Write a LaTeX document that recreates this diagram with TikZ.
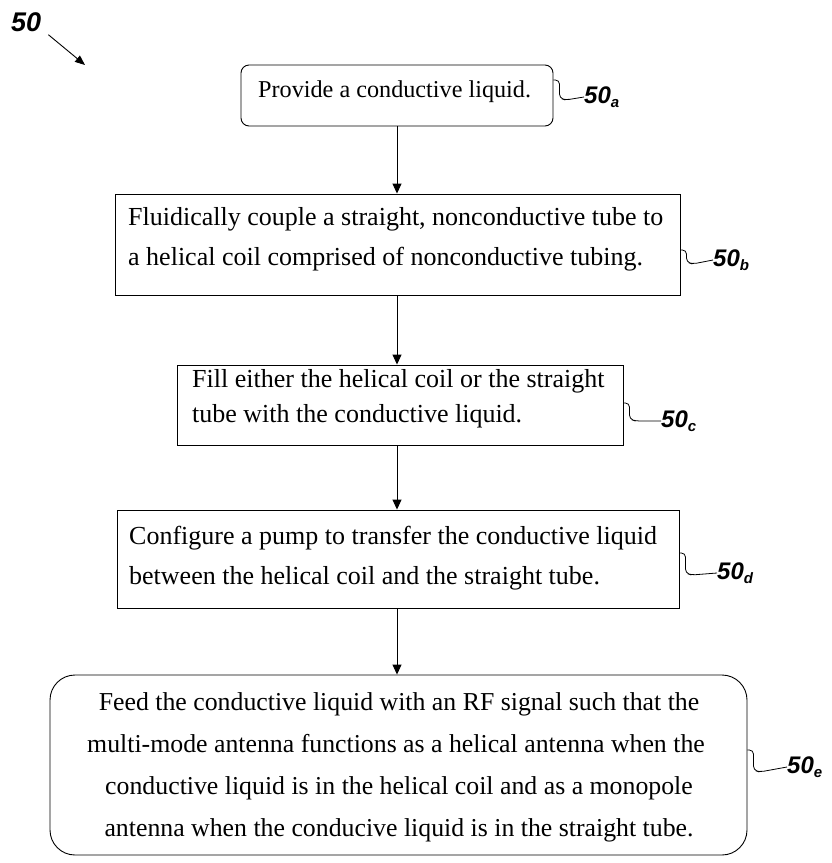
\documentclass[tikz,border=0pt]{standalone}
\usepackage{fontspec}
\setmainfont{Liberation Serif}
\newfontfamily\labfont{Liberation Sans}
\usetikzlibrary{arrows.meta}
\newcommand{\steplbl}[1]{50\raisebox{-4pt}{\fontsize{15}{15}\selectfont #1}}
\begin{document}
\begin{tikzpicture}[x=1pt,y=-1pt,
  box/.style={draw, line width=0.9pt, inner sep=0pt},
  rbox/.style={box, rounded corners=8pt},
  ebox/.style={box, rounded corners=25pt},
  txt/.style={inner sep=0pt, font=\fontsize{26}{26}\selectfont},
  txta/.style={inner sep=0pt, font=\fontsize{24.2}{24.2}\selectfont},
  txte/.style={inner sep=0pt, font=\fontsize{25.8}{25.8}\selectfont},
  flow/.style={draw, line width=0.9pt, -{Triangle[length=10pt,width=9pt]}},
  lead/.style={draw, line width=0.8pt, rounded corners=4pt},
  lab/.style={inner sep=0pt, anchor=west, font=\labfont\bfseries\itshape\fontsize{24}{24}\selectfont}]
\useasboundingbox (0,0) rectangle (831,863);

% boxes
\node[rbox, minimum width=312pt, minimum height=61pt] (a) at (397,95.5) {};
\node[box, minimum width=565pt, minimum height=101pt] (b) at (397.5,244.5) {};
\node[box, minimum width=446pt, minimum height=80pt] (c) at (400,405) {};
\node[box, minimum width=562pt, minimum height=98pt] (d) at (398,559) {};
\node[ebox, minimum width=697pt, minimum height=180pt] (e) at (398.5,765) {};

% texts
\node[txta, anchor=base west] (ta) at (258,97) {Provide a conductive liquid.};
\node[txt, anchor=base west] (tb1) at (128,225) {Fluidically couple a straight, nonconductive tube to};
\node[txt, anchor=base west] (tb2) at (128,265) {a helical coil comprised of nonconductive tubing.};
\node[txt, anchor=base west] (tc1) at (192,387) {Fill either the helical coil or the straight};
\node[txt, anchor=base west] (tc2) at (192,422) {tube with the conductive liquid.};
\node[txt, anchor=base west] (td1) at (129,544) {Configure a pump to transfer the conductive liquid};
\node[txt, anchor=base west] (td2) at (129,584) {between the helical coil and the straight tube.};
\node[txte, anchor=base] (te1) at (399,710) {Feed the conductive liquid with an RF signal such that the};
\node[txte, anchor=base] (te2) at (396,752) {multi-mode antenna functions as a helical antenna when the};
\node[txte, anchor=base] (te3) at (399,794) {conductive liquid is in the helical coil and as a monopole};
\node[txte, anchor=base] (te4) at (399,836) {antenna when the conducive liquid is in the straight tube.};

% flow arrows
\draw[flow] (a.south) -- (a.south |- b.north);
\draw[flow] (a.south |- b.south) -- (a.south |- c.north);
\draw[flow] (a.south |- c.south) -- (a.south |- d.north);
\draw[flow] (a.south |- d.south) -- (a.south |- e.north);

% labels
\node[lab, font=\labfont\bfseries\itshape\fontsize{27}{27}\selectfont] (fifty) at (11,22) {50};
\coordinate (fiftytip) at (85,65);
\draw[line width=0.9pt, -{Triangle[length=10pt,width=8pt]}] ([shift={(7,3)}]fifty.south east) -- (fiftytip);

\node[lab] (la) at (584,97) {\steplbl{a}};
\node[lab] (lb) at (713,260) {\steplbl{b}};
\node[lab] (lc) at (661,421) {\steplbl{c}};
\node[lab] (ld) at (717,573) {\steplbl{d}};
\node[lab] (le) at (787,767) {\steplbl{e}};

\draw[lead] (a.east |- 0,80) -- ++(6,0) -- ++(0,18) -- ++(6,2) -- (la.west);
\draw[lead] (b.east |- 0,250) -- ++(6,0) -- ++(0,12) -- ++(6,2) -- (lb.west);
\draw[lead] (c.east |- 0,403) -- ++(6,0) -- ++(0,16) -- ++(6,2) -- (lc.west);
\draw[lead] (d.east |- 0,553) -- ++(6,0) -- ++(0,20) -- ++(6,2) -- (ld.west);
\draw[lead] (e.east |- 0,750) -- ++(6,0) -- ++(0,20) -- ++(6,2) -- (le.west);
\end{tikzpicture}
\end{document}
